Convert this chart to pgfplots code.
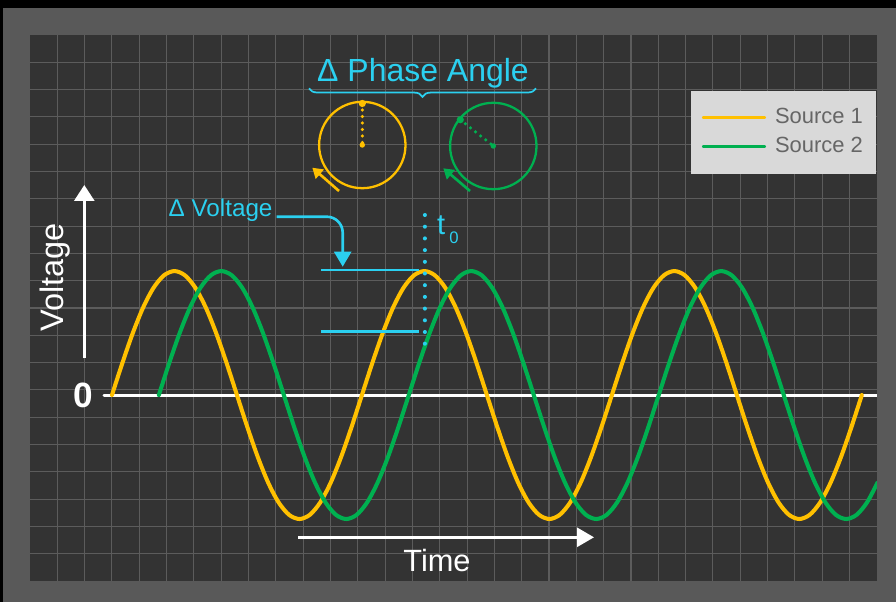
\documentclass[border=0pt]{standalone}
\usepackage{fontspec}
\setmainfont{Liberation Sans}
\usepackage{pgfplots}
\pgfplotsset{compat=1.18}
\usetikzlibrary{arrows.meta,decorations.pathreplacing}

\definecolor{frame}{HTML}{595959}
\definecolor{panel}{HTML}{333333}
\definecolor{gridc}{HTML}{5C5C5C}
\definecolor{src1}{HTML}{FFC000}
\definecolor{src2}{HTML}{00B050}
\definecolor{note}{RGB}{43,208,240}
\definecolor{legfill}{HTML}{D9D9D9}
\definecolor{legtext}{HTML}{666666}

\begin{document}
\begin{tikzpicture}
% background, in pixel units (y up)
\begin{scope}[x=0.02cm,y=0.02cm]
  \fill[black] (0,0) rectangle (896,602);
  \fill[frame] (3,0) rectangle (896,594);
\end{scope}

\begin{axis}[
  at={(0.6cm,0.42cm)}, anchor=south west,
  width=16.94cm, height=10.92cm, scale only axis,
  xmin=-118.08, xmax=1101.6, ymin=-1.5, ymax=2.903,
  xtick={-78.736,-39.391,-0.047,39.298,78.643,117.987,157.332,196.676,236.021,275.365,
    314.710,354.054,393.399,432.743,472.088,511.432,550.777,590.121,629.466,668.810,
    708.155,747.499,786.844,826.188,865.533,904.877,944.222,983.566,1022.911,1062.255},
  ytick={-1.280,-1.060,-0.839,-0.619,-0.399,-0.179,0.042,0.262,0.482,0.702,0.922,
    1.142,1.363,1.583,1.803,2.023,2.243,2.463,2.683},
  xticklabels={}, yticklabels={},
  tick style={draw=none},
  grid=major, major grid style={gridc, line width=0.6pt},
  axis line style={draw=none},
  axis background/.style={fill=panel},
  every axis plot/.append style={line width=2.3pt, line cap=round, line join=round},
  legend style={draw=none, fill=legfill, at={(1,0.899)}, anchor=north east,
    font=\fontsize{12.5}{15}\selectfont, inner xsep=0.21cm, inner ysep=0.3cm,
    row sep=0.1cm, column sep=0.12cm,
    nodes={inner sep=0.06cm, text=legtext}},
  legend cell align=left,
  legend image code/.code={\draw[#1, line width=1.3pt] (0cm,0cm) -- (1.24cm,0cm);},
]
% zero line
\addplot[white, line width=1.7pt, forget plot] coordinates {(-11.5,0) (1110,0)};

% Source 1 (phase in degrees of source 1, normalised voltage)
\addplot[src1, smooth] coordinates {
(0,0) (15,0.2588) (30,0.5) (45,0.7071) (60,0.866) (75,0.9659) (90,1) (105,0.9659) (120,0.866) (135,0.7071) (150,0.5) (165,0.2588)
(180,0) (195,-0.2588) (210,-0.5) (225,-0.7071) (240,-0.866) (255,-0.9659) (270,-1) (285,-0.9659) (300,-0.866) (315,-0.7071) (330,-0.5) (345,-0.2588)
(360,0) (375,0.2588) (390,0.5) (405,0.7071) (420,0.866) (435,0.9659) (450,1) (465,0.9659) (480,0.866) (495,0.7071) (510,0.5) (525,0.2588)
(540,0) (555,-0.2588) (570,-0.5) (585,-0.7071) (600,-0.866) (615,-0.9659) (630,-1) (645,-0.9659) (660,-0.866) (675,-0.7071) (690,-0.5) (705,-0.2588)
(720,0) (735,0.2588) (750,0.5) (765,0.7071) (780,0.866) (795,0.9659) (810,1) (825,0.9659) (840,0.866) (855,0.7071) (870,0.5) (885,0.2588)
(900,0) (915,-0.2588) (930,-0.5) (945,-0.7071) (960,-0.866) (975,-0.9659) (990,-1) (1005,-0.9659) (1020,-0.866) (1035,-0.7071) (1050,-0.5) (1065,-0.2588)
(1080,0)
};
\addlegendentry{Source 1}

% Source 2, lagging
\addplot[src2, smooth] coordinates {
(67.5,0) (82.5,0.2588) (97.5,0.5) (112.5,0.7071) (127.5,0.866) (142.5,0.9659) (157.5,1) (172.5,0.9659) (187.5,0.866) (202.5,0.7071) (217.5,0.5) (232.5,0.2588)
(247.5,0) (262.5,-0.2588) (277.5,-0.5) (292.5,-0.7071) (307.5,-0.866) (322.5,-0.9659) (337.5,-1) (352.5,-0.9659) (367.5,-0.866) (382.5,-0.7071) (397.5,-0.5) (412.5,-0.2588)
(427.5,0) (442.5,0.2588) (457.5,0.5) (472.5,0.7071) (487.5,0.866) (502.5,0.9659) (517.5,1) (532.5,0.9659) (547.5,0.866) (562.5,0.7071) (577.5,0.5) (592.5,0.2588)
(607.5,0) (622.5,-0.2588) (637.5,-0.5) (652.5,-0.7071) (667.5,-0.866) (682.5,-0.9659) (697.5,-1) (712.5,-0.9659) (727.5,-0.866) (742.5,-0.7071) (757.5,-0.5) (772.5,-0.2588)
(787.5,0) (802.5,0.2588) (817.5,0.5) (832.5,0.7071) (847.5,0.866) (862.5,0.9659) (877.5,1) (892.5,0.9659) (907.5,0.866) (922.5,0.7071) (937.5,0.5) (952.5,0.2588)
(967.5,0) (982.5,-0.2588) (997.5,-0.5) (1012.5,-0.7071) (1027.5,-0.866) (1042.5,-0.9659) (1057.5,-1) (1072.5,-0.9659) (1087.5,-0.866) (1102.5,-0.7071)
};
\addlegendentry{Source 2}

% delta voltage markers and t0
\draw[note, line width=1.5pt] (axis cs:301,1.008) -- (axis cs:442.5,1.008);
\draw[note, line width=1.5pt] (axis cs:301,0.514) -- (axis cs:442.5,0.514);
\draw[note, line width=2.3pt, line cap=round, dash pattern=on 0pt off 0.234cm]
  (axis cs:450.7,1.452) -- (axis cs:450.7,0.40);
\end{axis}

% annotations, in pixel units (y up)
\begin{scope}[x=0.02cm,y=0.02cm]
  \node[note, anchor=base, font=\fontsize{18.2}{20}\selectfont] at (423,520.3) {Δ Phase Angle};
  \draw[note, line width=1pt, decorate, decoration={brace, amplitude=0.17cm, mirror}]
    (309,513.7) -- (536,513.7);

  % phasor of source 1
  \draw[src1, line width=1.3pt] (362.3,457) circle (43.2);
  \draw[src1, line width=2pt, line cap=round, dash pattern=on 0pt off 0.13cm] (362.3,498.5) -- (362.3,457);
  \fill[src1] (362.3,498.5) circle (3.6);
  \fill[src1] (362.3,457) circle (2.7);
  \draw[src1, line width=1.5pt, -{Triangle[length=0.2cm,width=0.24cm]}] (339,411) -- (312.3,434.3);

  % phasor of source 2
  \draw[src2, line width=1.3pt] (493.3,456) circle (43.2);
  \draw[src2, line width=2pt, line cap=round, dash pattern=on 0pt off 0.13cm] (460.3,482.3) -- (493.3,456);
  \fill[src2] (460.3,482.3) circle (3.6);
  \fill[src2] (493.3,456) circle (2.7);
  \draw[src2, line width=1.5pt, -{Triangle[length=0.2cm,width=0.24cm]}] (470,411) -- (443.3,433.7);

  % delta voltage label
  \node[note, anchor=base west, inner sep=0pt, font=\fontsize{13.8}{15}\selectfont] at (168.3,385.3) {Δ Voltage};
  \draw[note, line width=1.5pt, -{Triangle[length=0.3cm,width=0.34cm]}]
    (276.7,385.3) -- (326.7,385.3) to[out=0,in=90] (342.7,369.3) -- (342.7,335.3);

  % t0 label
  \node[note, anchor=base west, inner sep=0pt, font=\fontsize{16.5}{18}\selectfont] at (436.7,367) {t};
  \node[note, anchor=base west, inner sep=0pt, font=\fontsize{9.5}{11}\selectfont] at (449,358) {0};

  % axis arrows and labels
  \draw[white, line width=1.55pt, -{Triangle[length=0.32cm,width=0.4cm]}] (84.3,243.7) -- (84.3,417);
  \node[white, rotate=90, anchor=base, inner sep=0pt, font=\fontsize{18.5}{20}\selectfont] at (63.3,324.5) {Voltage};
  \node[white, font=\bfseries\fontsize{20}{22}\selectfont, inner sep=0pt] at (83.7,207) {0};
  \draw[white, line width=1.55pt, -{Triangle[length=0.34cm,width=0.38cm]}] (298.3,64.7) -- (594,64.7);
  \node[white, anchor=base, inner sep=0pt, font=\fontsize{17.5}{20}\selectfont] at (437,30.3) {Time};
\end{scope}
\end{tikzpicture}
\end{document}
